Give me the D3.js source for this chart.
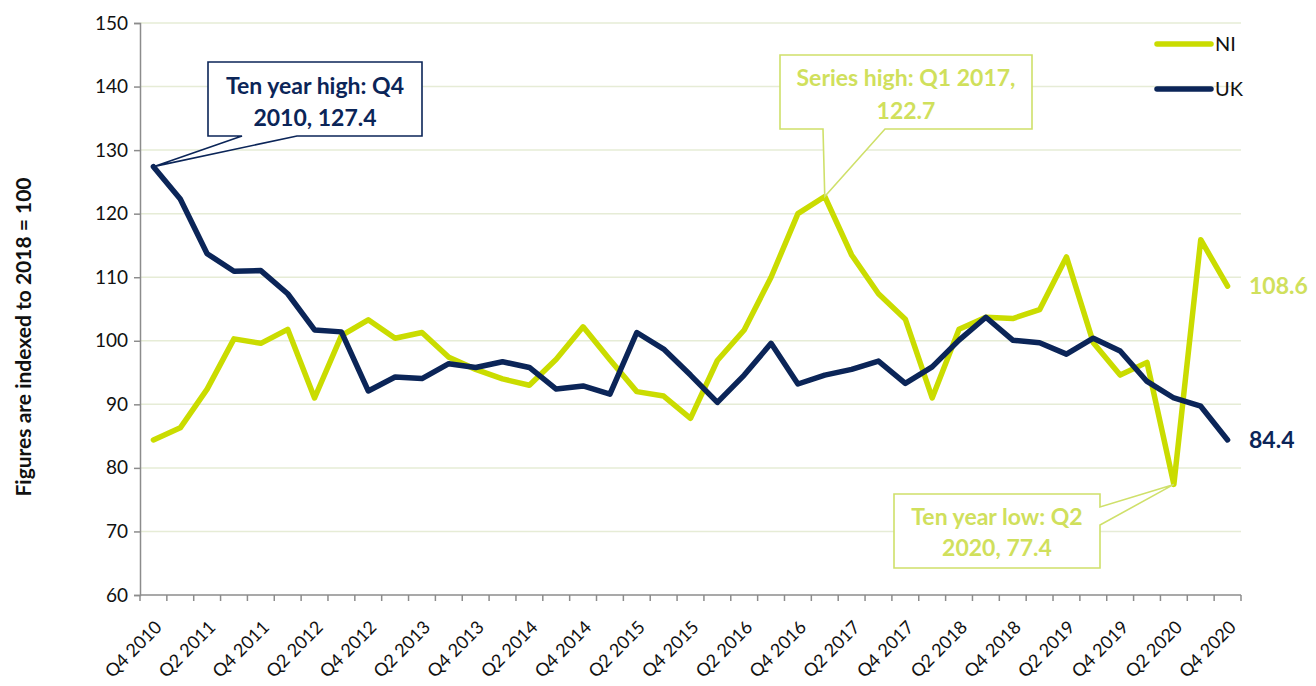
<!DOCTYPE html>
<html>
<head>
<meta charset="utf-8">
<script src="https://cdn.jsdelivr.net/npm/d3@7"></script>
<style>
  html, body { margin: 0; padding: 0; background: #fff; }
  svg { display: block; font-family: Lato, "Open Sans", sans-serif; }
</style>
</head>
<body>
<svg id="chart" width="1316" height="686"></svg>
<script>
const categories = ["Q4 2010","Q1 2011","Q2 2011","Q3 2011","Q4 2011","Q1 2012","Q2 2012","Q3 2012","Q4 2012","Q1 2013","Q2 2013","Q3 2013","Q4 2013","Q1 2014","Q2 2014","Q3 2014","Q4 2014","Q1 2015","Q2 2015","Q3 2015","Q4 2015","Q1 2016","Q2 2016","Q3 2016","Q4 2016","Q1 2017","Q2 2017","Q3 2017","Q4 2017","Q1 2018","Q2 2018","Q3 2018","Q4 2018","Q1 2019","Q2 2019","Q3 2019","Q4 2019","Q1 2020","Q2 2020","Q3 2020","Q4 2020"];
const niValues = [84.4, 86.3, 92.4, 100.3, 99.6, 101.8, 91.0, 100.8, 103.3, 100.4, 101.3, 97.4, 95.5, 94.0, 93.0, 97.1, 102.2, 97.0, 92.0, 91.3, 87.8, 96.9, 101.7, 110.0, 120.0, 122.7, 113.5, 107.4, 103.4, 91.0, 101.8, 103.7, 103.5, 104.9, 113.2, 99.7, 94.6, 96.6, 77.4, 115.9, 108.6];
const ukValues = [127.4, 122.3, 113.7, 110.95, 111.05, 107.4, 101.7, 101.4, 92.1, 94.3, 94.05, 96.4, 95.8, 96.7, 95.8, 92.4, 92.9, 91.6, 101.3, 98.7, 94.6, 90.3, 94.6, 99.6, 93.2, 94.6, 95.5, 96.8, 93.3, 95.9, 100.1, 103.7, 100.1, 99.7, 97.9, 100.4, 98.4, 93.6, 91.0, 89.7, 84.4];
const yTicks = [60, 70, 80, 90, 100, 110, 120, 130, 140, 150];
const seriesNames = ["NI", "UK"];
const annotations = [
  {series: "UK", index: 0, lines: ["Ten year high: Q4", "2010, 127.4"]},
  {series: "NI", index: 25, lines: ["Series high: Q1 2017,", "122.7"]},
  {series: "NI", index: 38, lines: ["Ten year low: Q2", "2020, 77.4"]}
];

const NI_COLOR = "#cadc00";
const NI_TEXT = "#d0e05c";
const UK_COLOR = "#0b2558";
const GRID = "#e6ecd6";
const AXIS = "#8c8c8c";

const svg = d3.select("#chart");
const x = d3.scaleBand().domain(categories).range([140, 1241]).paddingInner(0).paddingOuter(0);
const y = d3.scaleLinear().domain([60, 150]).range([595, 23]);
const cx = c => x(c) + x.bandwidth() / 2;

// gridlines
svg.append("g").selectAll("line").data(yTicks.filter(t => t > 60)).join("line")
  .attr("x1", 140).attr("x2", 1241)
  .attr("y1", d => y(d)).attr("y2", d => y(d))
  .attr("stroke", GRID).attr("stroke-width", 1.5);

// y axis
const yAxis = svg.append("g").attr("transform", "translate(140,0)")
  .call(d3.axisLeft(y).tickValues(yTicks).tickSize(6).tickPadding(6));
yAxis.select(".domain").attr("stroke", AXIS).attr("stroke-width", 1.5);
yAxis.selectAll(".tick line").attr("stroke", AXIS).attr("stroke-width", 1.5);
yAxis.selectAll(".tick text").attr("font-size", 19).attr("fill", "#111").attr("font-family", "Lato, sans-serif");

// x axis
const xg = svg.append("g");
xg.append("line").attr("x1", 140).attr("x2", 1241).attr("y1", y(60)).attr("y2", y(60))
  .attr("stroke", AXIS).attr("stroke-width", 1.5);
const boundaries = categories.map(c => x(c)).concat([x(categories[categories.length - 1]) + x.bandwidth()]);
xg.selectAll("line.tk").data(boundaries).join("line").attr("class", "tk")
  .attr("x1", d => d).attr("x2", d => d).attr("y1", y(60)).attr("y2", y(60) + 6)
  .attr("stroke", AXIS).attr("stroke-width", 1.5);
xg.selectAll("text").data(categories.filter((c, i) => i % 2 === 0)).join("text")
  .attr("transform", d => `translate(${cx(d) + 5},${y(60) + 29}) rotate(-45)`)
  .attr("text-anchor", "end").attr("dy", "0.35em")
  .attr("font-size", 18).attr("fill", "#111")
  .text(d => d);

// y title
svg.append("text")
  .attr("transform", `translate(24,${(y(60) + y(150)) / 2 + 28}) rotate(-90)`)
  .attr("text-anchor", "middle").attr("dy", "0.35em").attr("font-size", 21).attr("font-weight", "bold").attr("fill", "#111")
  .text("Figures are indexed to 2018 = 100");

// lines
const line = d3.line().x((d, i) => cx(categories[i])).y(d => y(d));
const series = [{name: "NI", values: niValues, color: NI_COLOR}, {name: "UK", values: ukValues, color: UK_COLOR}];
svg.append("g").selectAll("path").data(series).join("path")
  .attr("d", d => line(d.values)).attr("fill", "none")
  .attr("stroke", d => d.color).attr("stroke-width", 5.5)
  .attr("stroke-linejoin", "round").attr("stroke-linecap", "round");

// end labels
svg.append("text").attr("x", 1249).attr("y", y(niValues[niValues.length - 1])).attr("dy", "0.35em")
  .attr("font-size", 23).attr("font-weight", "bold").attr("fill", NI_TEXT).text(niValues[niValues.length - 1].toFixed(1));
svg.append("text").attr("x", 1249).attr("y", y(ukValues[ukValues.length - 1])).attr("dy", "0.35em")
  .attr("font-size", 23).attr("font-weight", "bold").attr("fill", UK_COLOR).text(ukValues[ukValues.length - 1].toFixed(1));

// legend
const legend = svg.append("g");
series.forEach((s, i) => {
  const ly = 44 + i * 45;
  legend.append("line").attr("x1", 1157).attr("x2", 1211).attr("y1", ly).attr("y2", ly)
    .attr("stroke", s.color).attr("stroke-width", 5.5).attr("stroke-linecap", "round");
  legend.append("text").attr("x", 1215).attr("y", ly).attr("dy", "0.36em")
    .attr("font-size", 20).attr("fill", "#111").text(seriesNames[i]);
});

// callouts
const boxes = [
  {x0: 208, y0: 62, x1: 422, y1: 136, side: "bottom", b0: 242, b1: 297, color: UK_COLOR, text: UK_COLOR, ty: [86, 118]},
  {x0: 780, y0: 55, x1: 1032, y1: 129, side: "bottom", b0: 823, b1: 885, color: "#cfe06a", text: NI_TEXT, ty: [78, 111]},
  {x0: 894, y0: 494, x1: 1100, y1: 568, side: "right", b0: 507, b1: 525, color: "#cfe06a", text: NI_TEXT, ty: [517, 548]}
];
annotations.forEach((a, k) => {
  const b = boxes[k];
  const vals = a.series === "NI" ? niValues : ukValues;
  const tx = cx(categories[a.index]), ty = y(vals[a.index]);
  let p;
  if (b.side === "bottom") {
    p = `M${b.x0},${b.y0}H${b.x1}V${b.y1}H${b.b1}L${tx},${ty}L${b.b0},${b.y1}H${b.x0}Z`;
  } else {
    p = `M${b.x0},${b.y0}H${b.x1}V${b.b0}L${tx},${ty}L${b.x1},${b.b1}V${b.y1}H${b.x0}Z`;
  }
  const g = svg.append("g");
  g.append("path").attr("d", p).attr("fill", "#fff").attr("stroke", b.color).attr("stroke-width", 1.6).attr("stroke-linejoin", "miter");
  a.lines.forEach((t, j) => {
    g.append("text").attr("x", (b.x0 + b.x1) / 2).attr("y", b.ty[j]).attr("dy", "0.35em")
      .attr("text-anchor", "middle").attr("font-size", 23).attr("font-weight", "bold")
      .attr("fill", b.text).text(t);
  });
});
</script>
</body>
</html>
